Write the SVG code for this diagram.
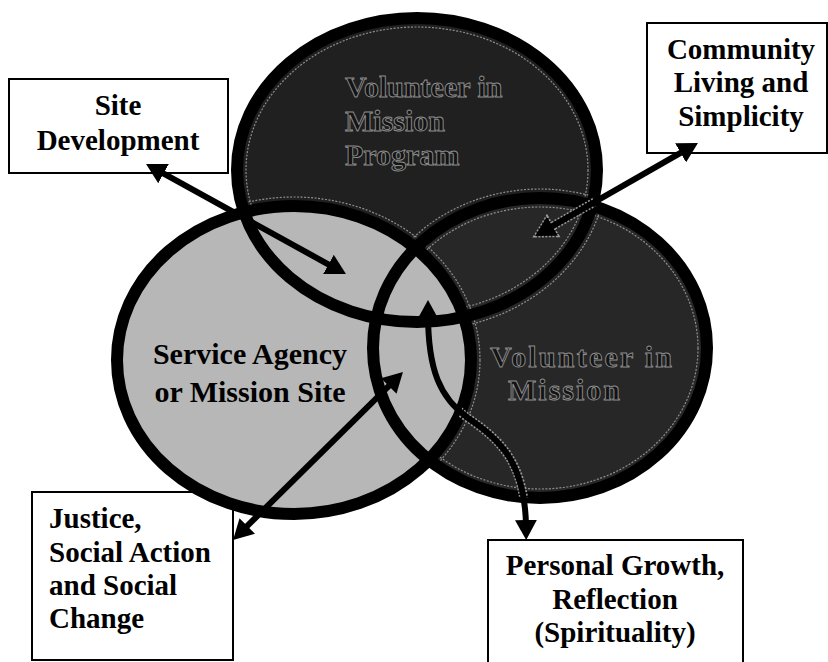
<svg xmlns="http://www.w3.org/2000/svg" width="828" height="662" viewBox="0 0 828 662" font-family="'Liberation Serif', 'DejaVu Serif', serif">
  <style>
    text { font-family: 'Liberation Serif', 'DejaVu Serif', serif; font-weight: 700; }
    .box rect { fill: #ffffff; stroke: #000000; stroke-width: 2; }
    .lbl { font-size: 29px; fill: #000000; }
    .inner { font-size: 30px; fill: #000000; }
    .dim { font-size: 30px; fill: #141414; stroke: #8f8f8f; stroke-width: 0.9; }
    .ring { fill: none; stroke: #000000; stroke-width: 12; }
    .contour { fill: none; stroke: #8e8e8e; stroke-width: 1.2; stroke-dasharray: 2 1.5; }
    .conn { fill: none; stroke: #000000; stroke-width: 6; marker-start: url(#head); marker-end: url(#head); }
    .halo { fill: none; stroke: #9a9a9a; stroke-width: 9; stroke-dasharray: 2 1.5; marker-start: url(#headHalo); marker-end: url(#headHalo); }
  </style>
  <defs>
    <marker id="head" viewBox="0 0 20 22" refX="6" refY="11" markerWidth="20" markerHeight="22" markerUnits="userSpaceOnUse" orient="auto-start-reverse">
      <path d="M0,0 L20,11 L0,22 z" fill="#000"/>
    </marker>
    <marker id="headHalo" viewBox="-3 -3 26 28" refX="6" refY="11" markerWidth="26" markerHeight="28" markerUnits="userSpaceOnUse" orient="auto-start-reverse">
      <path d="M0,0 L20,11 L0,22 z" fill="none" stroke="#9a9a9a" stroke-width="3" stroke-dasharray="2 1.5"/>
    </marker>
    <clipPath id="inTop"><ellipse cx="417" cy="170" rx="180" ry="152"/></clipPath>
    <clipPath id="inRight"><ellipse cx="540" cy="348" rx="167" ry="150"/></clipPath>
    <clipPath id="inDark">
      <ellipse cx="417" cy="170" rx="180" ry="152"/>
      <ellipse cx="540" cy="348" rx="167" ry="150"/>
    </clipPath>
    <mask id="outsideLeft" maskUnits="userSpaceOnUse" x="0" y="0" width="828" height="662">
      <rect x="0" y="0" width="828" height="662" fill="#fff"/>
      <ellipse cx="294" cy="360" rx="177" ry="154" fill="#000"/>
    </mask>
  </defs>

  <rect x="0" y="0" width="828" height="662" fill="#ffffff"/>

  <!-- outcome boxes -->
  <g id="site-development" class="box">
    <rect x="9" y="79" width="219" height="94"/>
    <text class="lbl" x="118" y="115" text-anchor="middle">Site</text>
    <text class="lbl" x="118" y="150" text-anchor="middle">Development</text>
  </g>
  <g id="community-living" class="box">
    <rect x="647" y="23" width="180" height="130"/>
    <text class="lbl" x="741" y="59" text-anchor="middle">Community</text>
    <text class="lbl" x="741" y="92" text-anchor="middle">Living and</text>
    <text class="lbl" x="741" y="126" text-anchor="middle">Simplicity</text>
  </g>
  <g id="justice" class="box">
    <rect x="32" y="492" width="201" height="168"/>
    <text class="lbl" x="49" y="528">Justice,</text>
    <text class="lbl" x="49" y="562">Social Action</text>
    <text class="lbl" x="49" y="595">and Social</text>
    <text class="lbl" x="49" y="628">Change</text>
  </g>
  <g id="personal-growth" class="box">
    <rect x="488" y="540" width="255" height="130"/>
    <text class="lbl" x="615" y="575" text-anchor="middle">Personal Growth,</text>
    <text class="lbl" x="615" y="609" text-anchor="middle">Reflection</text>
    <text class="lbl" x="615" y="642" text-anchor="middle">(Spirituality)</text>
  </g>

  <!-- the three overlapping circles -->
  <g id="mission-program">
    <ellipse cx="417" cy="170" rx="180" ry="152" fill="#202020"/>
    <text class="dim" x="345" y="97">Volunteer in</text>
    <text class="dim" x="345" y="131">Mission</text>
    <text class="dim" x="345" y="165">Program</text>
  </g>
  <g id="volunteer">
    <ellipse cx="540" cy="348" rx="167" ry="150" fill="#272727"/>
    <text class="dim" x="490" y="367" textLength="182" lengthAdjust="spacing">Volunteer in</text>
    <text class="dim" x="508" y="400" textLength="112" lengthAdjust="spacing">Mission</text>
  </g>
  <g id="service-agency">
    <ellipse cx="294" cy="360" rx="177" ry="154" fill="#b7b7b7"/>
    <text class="inner" x="250" y="364" text-anchor="middle">Service Agency</text>
    <text class="inner" x="250" y="402" text-anchor="middle">or Mission Site</text>
  </g>

  <!-- light contour lines inside the dark regions -->
  <g id="contours" class="contour" mask="url(#outsideLeft)">
    <ellipse cx="417" cy="170" rx="171" ry="143"/>
    <ellipse cx="540" cy="348" rx="158" ry="141"/>
    <ellipse cx="417" cy="170" rx="189" ry="161" clip-path="url(#inRight)"/>
    <ellipse cx="540" cy="348" rx="176" ry="159" clip-path="url(#inTop)"/>
    <ellipse cx="294" cy="360" rx="186" ry="163" clip-path="url(#inDark)"/>
  </g>

  <!-- circle outlines -->
  <g id="outlines" class="ring">
    <ellipse cx="417" cy="170" rx="180" ry="152"/>
    <ellipse cx="540" cy="348" rx="167" ry="150"/>
    <ellipse cx="294" cy="360" rx="177" ry="154"/>
  </g>

  <!-- connectors -->
  <g id="connectors">
    <g mask="url(#outsideLeft)">
      <g clip-path="url(#inDark)">
        <path class="halo" d="M685.8,149.9 L547.2,229.1"/>
        <path class="halo" d="M428,314 C428,370 440,398 468,418 C500,440 525,462 526,526"/>
      </g>
    </g>
    <path class="conn" d="M158.3,170.7 L333.7,267.3"/>
    <path class="conn" d="M685.8,149.9 L547.2,229.1"/>
    <path class="conn" d="M393,381.8 L243,530.2"/>
    <path class="conn" d="M428,314 C428,370 440,398 468,418 C500,440 525,462 526,526"/>
  </g>
</svg>
